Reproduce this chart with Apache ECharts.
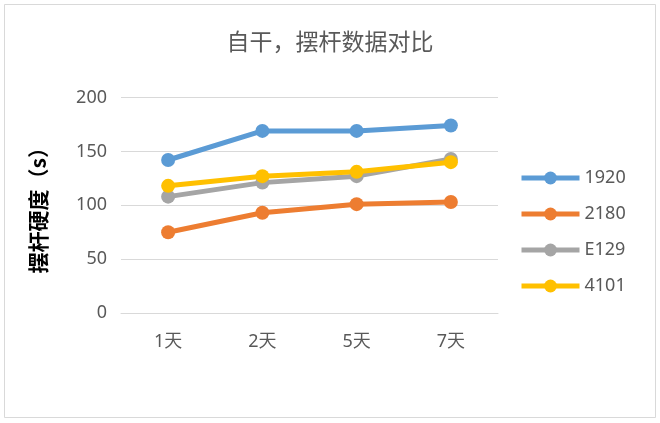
<!DOCTYPE html>
<html>
<head>
<meta charset="utf-8">
<script src="https://cdn.jsdelivr.net/npm/echarts@6/dist/echarts.min.js"></script>
<style>
html,body{margin:0;padding:0;background:#fff;}
#c{width:660px;height:423px;}
</style>
</head>
<body>
<div id="c"></div>
<script>
var categories = ['1天', '2天', '5天', '7天'];
var s1920 = [142, 169, 169, 174];
var s2180 = [75, 93, 101, 103];
var sE129 = [108, 121, 127, 143];
var s4101 = [118, 127, 131, 140];
var seriesNames = ['1920', '2180', 'E129', '4101'];
var seriesColors = ['#5B9BD5', '#ED7D31', '#A5A5A5', '#FFC000'];
var seriesData = [s1920, s2180, sE129, s4101];

var font = "'Noto Sans', 'Noto Sans CJK SC', sans-serif";
var chart = echarts.init(document.getElementById('c'));
chart.setOption({
  animation: false,
  backgroundColor: '#fff',
  color: seriesColors,
  textStyle: { fontFamily: font },
  graphic: [{
    type: 'rect',
    shape: { x: 4.5, y: 4.5, width: 651, height: 413 },
    style: { fill: 'none', stroke: '#d9d9d9', lineWidth: 1 },
    silent: true
  }],
  title: {
    text: '自干，摆杆数据对比',
    left: 'center',
    top: 27,
    textStyle: { fontSize: 23, fontWeight: 'normal', color: '#595959', fontFamily: font }
  },
  legend: {
    orient: 'vertical',
    left: 514,
    top: 164,
    itemWidth: 58,
    itemHeight: 16,
    itemGap: 18,
    lineStyle: { width: 5 },
    textStyle: { fontSize: 18, color: '#595959', fontFamily: font },
    data: seriesNames
  },
  grid: { left: 121, right: 162, top: 97.5, bottom: 110, containLabel: false },
  xAxis: {
    type: 'category',
    data: categories,
    boundaryGap: true,
    axisLine: { show: true, lineStyle: { color: '#d9d9d9', width: 1 } },
    axisTick: { show: false },
    axisLabel: { fontSize: 18, color: '#595959', margin: 20, fontFamily: font }
  },
  yAxis: {
    type: 'value',
    min: 0,
    max: 200,
    interval: 50,
    name: '摆杆硬度（s）',
    nameLocation: 'middle',
    nameRotate: 90,
    nameGap: 72,
    nameTextStyle: { fontSize: 21, color: '#000', fontWeight: 'bold', fontFamily: "'Noto Sans CJK SC', sans-serif" },
    axisLine: { show: false },
    axisTick: { show: false },
    axisLabel: { fontSize: 18, color: '#595959', margin: 14, fontFamily: font },
    splitLine: { lineStyle: { color: '#d9d9d9', width: 1 } }
  },
  series: seriesNames.map(function (n, i) {
    return {
      name: n,
      type: 'line',
      data: seriesData[i],
      symbol: 'circle',
      symbolSize: 14,
      lineStyle: { width: 5, color: seriesColors[i] },
      itemStyle: { color: seriesColors[i] }
    };
  })
});
</script>
</body>
</html>
